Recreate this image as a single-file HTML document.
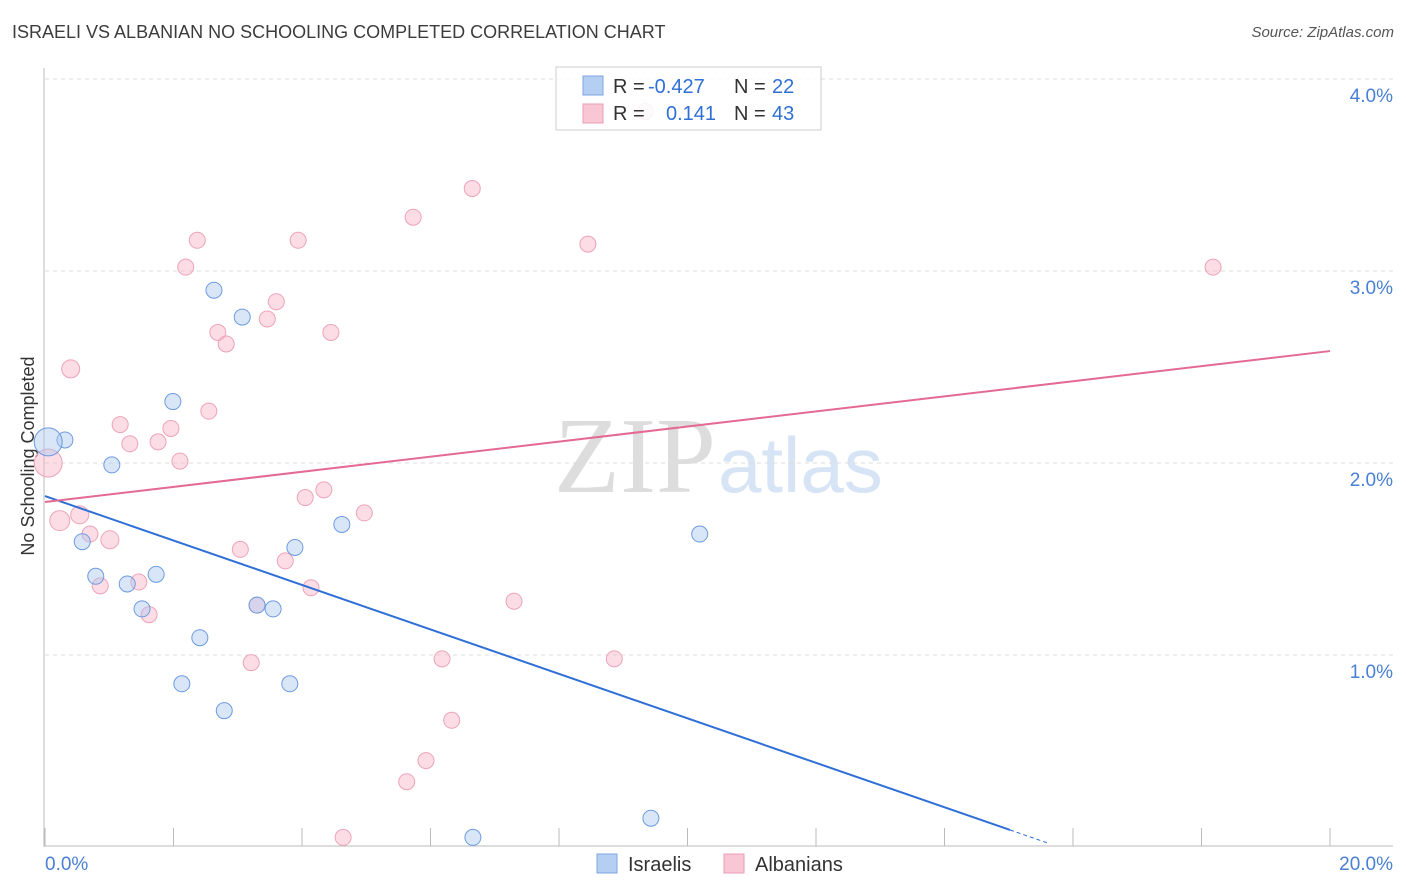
<!DOCTYPE html>
<html><head><meta charset="utf-8">
<style>
body{margin:0;background:#fff;font-family:"Liberation Sans",sans-serif;}
#wrap{position:relative;width:1406px;height:892px;overflow:hidden;}
.title{position:absolute;left:12px;top:22px;font-size:18px;color:#3c3c3c;}
.src{position:absolute;right:12px;top:24px;font-size:15px;color:#555;font-style:italic;}
</style></head><body>
<div id="wrap">
<div class="title">ISRAELI VS ALBANIAN NO SCHOOLING COMPLETED CORRELATION CHART</div>
<div class="src">Source: ZipAtlas.com</div>
<svg id="svg" width="1406" height="892" style="position:absolute;left:0;top:0">
<text x="716" y="492" font-family="Liberation Serif" font-size="108" fill="#ddd" text-anchor="end">ZIP</text>
<text x="718" y="492" font-family="Liberation Sans" font-size="78" fill="#d6e4f5">atlas</text>
</svg>
</div>
<script>
const xTicks=[0,2,4,6,8,10,12,14,16,18,20];
const yTicks=[1,2,3,4];
const yTickLabels=["1.0%","2.0%","3.0%","4.0%"];
const israeliX=[0.31,1.04,0.58,0.79,1.28,1.73,1.51,1.99,2.63,3.07,2.41,2.13,2.79,3.30,3.55,3.81,3.89,4.62,6.66,9.43,10.19,0.05];
const israeliY=[2.12,1.99,1.59,1.41,1.37,1.42,1.24,2.32,2.90,2.76,1.09,0.85,0.71,1.26,1.24,0.85,1.56,1.68,0.05,0.15,1.63,2.11];
const albanianX=[0.05,0.40,0.23,0.54,0.70,1.01,0.86,1.17,1.32,1.46,1.62,1.76,1.96,2.10,2.19,2.37,2.55,2.69,2.82,3.04,3.21,3.30,3.46,3.60,3.74,3.94,4.05,4.14,4.34,4.45,4.64,4.97,5.63,5.73,5.93,6.18,6.33,6.65,7.30,8.45,8.86,18.18,9.34];
const albanianY=[2.00,2.49,1.70,1.73,1.63,1.60,1.36,2.20,2.10,1.38,1.21,2.11,2.18,2.01,3.02,3.16,2.27,2.68,2.62,1.55,0.96,1.26,2.75,2.84,1.49,3.16,1.82,1.35,1.86,2.68,0.05,1.74,0.34,3.28,0.45,0.98,0.66,3.43,1.28,3.14,0.98,3.02,3.83];
const albanianSize=[14,9,10,9,8,9,8,8,8,8,8,8,8,8,8,8,8,8,8,8,8,8,8,8,8,8,8,8,8,8,8,8,8,8,8,8,8,8,8,8,8,8,8];
const israeliSize=[8,8,8,8,8,8,8,8,8,8,8,8,8,8,8,8,8,8,8,8,8,14];
const israeliLine=[1.828,-0.1158];
const albanianLine=[1.797,0.0393];
const X=v=>45+v*64.25, Y=v=>847-v*192;
const svg=document.getElementById('svg'), NS='http://www.w3.org/2000/svg';
function mk(t,a,name,inter){const e=document.createElementNS(NS,t);for(const k in a)e.setAttribute(k,a[k]);


svg.appendChild(e);return e;}
yTicks.forEach((t,i)=>{
mk('line',{x1:45,x2:1393,y1:Y(t),y2:Y(t),stroke:'#ddd','stroke-dasharray':'4,4'},'y-gridline','false');
const tx=mk('text',{x:1393,y:Y(t)+23,'text-anchor':'end','font-size':19,fill:'#4a7fd4'},'y-tick-label','false');tx.textContent=yTickLabels[i];});
mk('line',{x1:44,x2:44,y1:68,y2:847,stroke:'#bbb'},'y-axis','false');
mk('line',{x1:44,x2:1393,y1:846,y2:846,stroke:'#bbb'},'x-axis','false');
xTicks.forEach(t=>mk('line',{x1:X(t),x2:X(t),y1:828,y2:846,stroke:'#bbb'},'x-tick','false'));
let t=mk('text',{x:45,y:870,'font-size':19,fill:'#4a7fd4'},'x-tick-label-min','false');t.textContent='0.0%';
t=mk('text',{x:1393,y:870,'font-size':19,fill:'#4a7fd4','text-anchor':'end'},'x-tick-label-max','false');t.textContent='20.0%';
t=mk('text',{x:0,y:0,'font-size':18,fill:'#333',transform:'translate(34,456) rotate(-90)','text-anchor':'middle'},'y-axis-title','false');t.textContent='No Schooling Completed';
albanianX.forEach((v,i)=>mk('circle',{cx:X(v),cy:Y(albanianY[i]),r:albanianSize[i],fill:'rgba(248,180,200,0.45)',stroke:'#eda3b9','stroke-width':1},'albanian-point','true'));
israeliX.forEach((v,i)=>mk('circle',{cx:X(v),cy:Y(israeliY[i]),r:israeliSize[i],fill:'rgba(170,200,240,0.45)',stroke:'#6d9be0','stroke-width':1},'israeli-point','true'));
const bEnd=15.02;
mk('line',{x1:X(0),y1:Y(israeliLine[0]),x2:X(bEnd),y2:Y(israeliLine[0]+israeliLine[1]*bEnd),stroke:'#2f6fd6','stroke-width':2},'israeli-trendline','false');
mk('line',{x1:X(bEnd),y1:Y(israeliLine[0]+israeliLine[1]*bEnd),x2:X(15.6),y2:Y(israeliLine[0]+israeliLine[1]*15.6),stroke:'#2f6fd6','stroke-width':1,'stroke-dasharray':'4,3'},'israeli-trendline-ext','false');
mk('line',{x1:X(0),y1:Y(albanianLine[0]),x2:X(20),y2:Y(albanianLine[0]+albanianLine[1]*20),stroke:'#e46a93','stroke-width':2},'albanian-trendline','false');
mk('rect',{x:556,y:67,width:265,height:63,fill:'rgba(255,255,255,0.85)',stroke:'#ccc'},'legend-box','false');
mk('rect',{x:583,y:76,width:20,height:19,fill:'#b5cff3',stroke:'#7ea6e2'},'legend-swatch-israeli','false');
mk('rect',{x:583,y:104,width:20,height:19,fill:'#f8c6d5',stroke:'#ea9fb6'},'legend-swatch-albanian','false');
function lt(x,y,s,c,n){const e=mk('text',{x:x,y:y,'font-size':20,fill:c},n,'false');e.textContent=s;}
lt(613,93,'R = ','#333','legend-r-label');lt(648,93,'-0.427','#2f6fd6','legend-r-israeli');
lt(734,93,'N = ','#333','legend-n-label');lt(772,93,'22','#2f6fd6','legend-n-israeli');
lt(613,120,'R = ','#333','legend-r-label');lt(666,120,'0.141','#2f6fd6','legend-r-albanian');
lt(734,120,'N = ','#333','legend-n-label');lt(772,120,'43','#2f6fd6','legend-n-albanian');
mk('rect',{x:597,y:854,width:20,height:19,fill:'#b5cff3',stroke:'#7ea6e2'},'bottom-legend-swatch-israeli','true');
lt(628,871,'Israelis','#333','bottom-legend-israelis');
mk('rect',{x:724,y:854,width:20,height:19,fill:'#f8c6d5',stroke:'#ea9fb6'},'bottom-legend-swatch-albanian','true');
lt(755,871,'Albanians','#333','bottom-legend-albanians');
</script>
</body></html>
